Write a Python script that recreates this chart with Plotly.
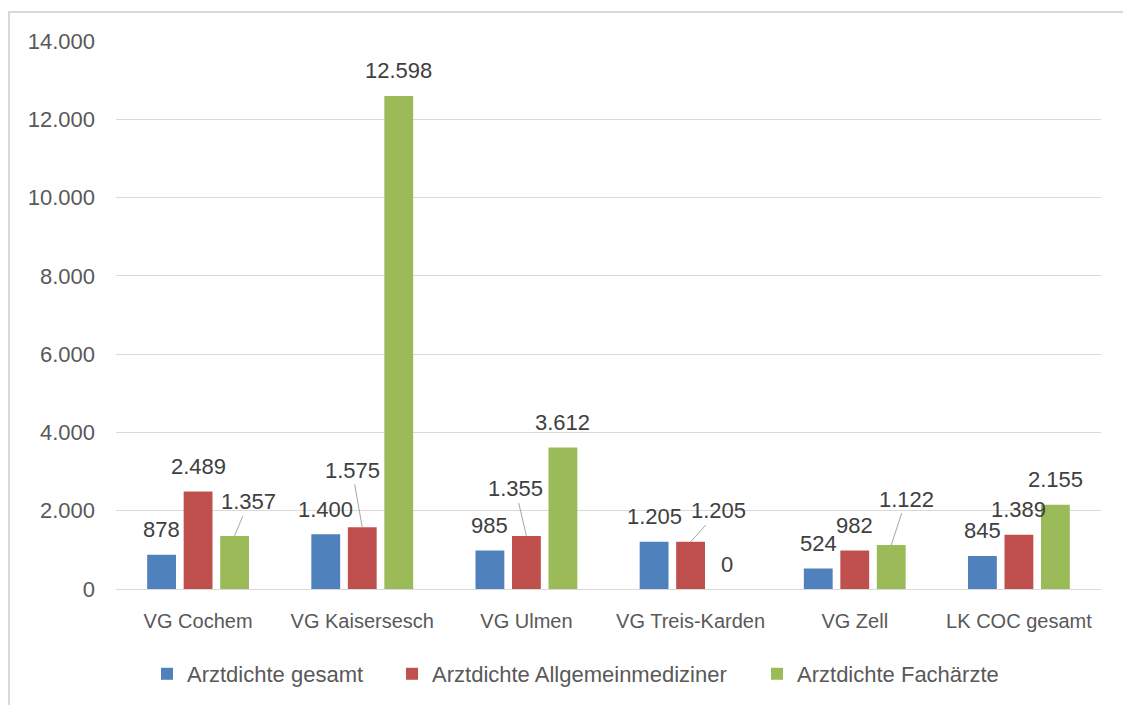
import plotly.graph_objects as go

categories = ["VG Cochem", "VG Kaisersesch", "VG Ulmen", "VG Treis-Karden", "VG Zell", "LK COC gesamt"]
gesamt = [878, 1400, 985, 1205, 524, 845]
allgemein = [2489, 1575, 1355, 1205, 982, 1389]
fachaerzte = [1357, 12598, 3612, 0, 1122, 2155]
series_names = ["Arztdichte gesamt", "Arztdichte Allgemeinmediziner", "Arztdichte Fachärzte"]
colors = ["#4F81BD", "#C0504D", "#9BBB59"]
y_ticks = [0, 2000, 4000, 6000, 8000, 10000, 12000, 14000]

# label offsets (pixels, dx, dy) for labels drawn with a leader line
leader = {
    (2, 0): (14, -34),
    (1, 1): (-10, -57),
    (1, 2): (-11, -47),
    (1, 3): (28, -31),
    (2, 4): (15, -46),
}
default_lift = 25

series = [gesamt, allgemein, fachaerzte]
bargap = 0.333
bargroupgap = 0.21
legend_x = [0.1309, 0.3491, 0.6741]
legend_ids = ["legend", "legend2", "legend3"]

FONT = "Liberation Sans, Arial, sans-serif"

fig = go.Figure()
for name, vals, col, lid in zip(series_names, series, colors, legend_ids):
    fig.add_trace(go.Bar(x=categories, y=vals, name=name, legend=lid, showlegend=True,
                         marker=dict(color=col, line=dict(width=0))))

def fmt(v):
    return f"{v:,}".replace(",", ".")

annotations = []
slot = (1 - bargap) / 3
for j, vals in enumerate(series):
    for i, v in enumerate(vals):
        xpos = i + (j - 1) * slot
        if (j, i) in leader:
            ax, ay = leader[(j, i)]
            annotations.append(dict(x=xpos, y=v, xref="x", yref="y", text=fmt(v),
                                    showarrow=True, arrowhead=0, arrowwidth=1,
                                    arrowcolor="#A6A6A6", ax=ax, ay=ay,
                                    font=dict(size=22, color="#404040", family=FONT)))
        else:
            annotations.append(dict(x=xpos, y=v, xref="x", yref="y", text=fmt(v),
                                    showarrow=False, yshift=default_lift,
                                    font=dict(size=22, color="#404040", family=FONT)))

legend_common = dict(orientation="h", xref="container", yref="container",
                     xanchor="left", y=0.044, yanchor="middle",
                     font=dict(size=22, color="#595959", family=FONT), itemclick=False,
                     bgcolor="rgba(0,0,0,0)")

fig.update_layout(
    width=1123, height=705,
    margin=dict(l=116, r=22, t=41, b=116, autoexpand=False),
    paper_bgcolor="white", plot_bgcolor="white",
    separators=",.",
    showlegend=True,
    barmode="group", bargap=bargap, bargroupgap=bargroupgap,
    font=dict(family=FONT, color="#595959", size=20),
    xaxis=dict(showgrid=False, showline=True, linecolor="#D9D9D9", linewidth=1,
               tickfont=dict(size=20, color="#595959"), ticks="", ticklabelstandoff=14),
    yaxis=dict(range=[0, 14000], tickvals=y_ticks, tickformat=",d",
               showgrid=True, gridcolor="#D9D9D9", gridwidth=1, zeroline=False,
               showline=False, tickfont=dict(size=22, color="#595959"),
               ticklabelstandoff=20),
    legend=dict(x=legend_x[0], **legend_common),
    legend2=dict(x=legend_x[1], **legend_common),
    legend3=dict(x=legend_x[2], **legend_common),
    annotations=annotations,
    shapes=[dict(type="rect", xref="paper", yref="paper",
                 x0=-0.1086, y0=-0.35, x1=1.1, y1=1.0529,
                 line=dict(color="#D9D9D9", width=2), fillcolor="rgba(0,0,0,0)",
                 layer="below")],
)

fig.write_html("out.html")
